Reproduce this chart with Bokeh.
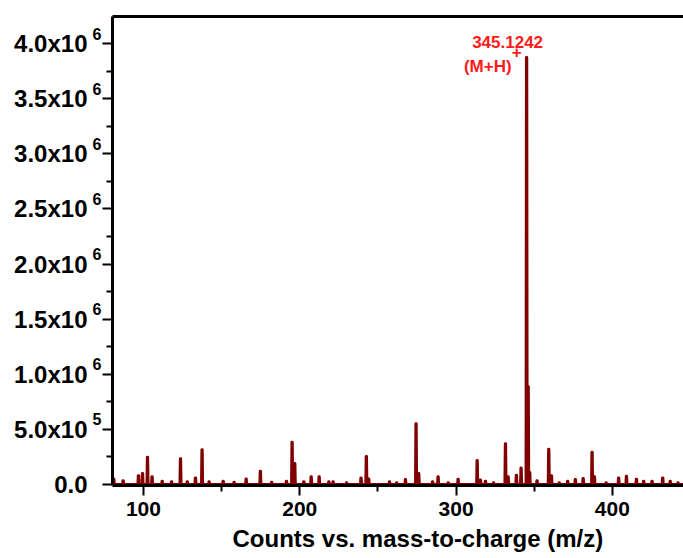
from bokeh.plotting import figure
from bokeh.models import FixedTicker, LinearAxis, Range1d, Title, ColumnDataSource, CustomLabelingPolicy
from bokeh.core.properties import value
from bokeh.embed import file_html
from bokeh.resources import INLINE

# ---- data (m/z, counts) ----
peak_mz = [81.0, 87.0, 96.8, 99.4, 102.6, 105.5, 112.0, 118.0, 123.7, 128.0, 133.3, 137.5, 142.0,
           151.0, 158.0, 165.7, 174.8, 182.0, 191.5, 195.1, 196.8, 202.6, 207.3, 212.4, 218.6,
           221.3, 230.0, 239.2, 242.6, 244.1, 257.4, 262.0, 267.6, 274.4, 276.1, 285.0, 288.5,
           295.0, 301.3, 313.5, 315.6, 318.8, 324.0, 331.6, 333.3, 338.6, 341.6, 345.1242,
           346.13, 347.1, 351.8, 359.3, 361.0, 366.0, 371.4, 376.3, 381.3, 387.0, 388.5, 396.0,
           404.0, 409.0, 415.4, 420.0, 425.4, 432.2, 437.0, 442.0]
peak_int = [50000, 35000, 80000, 100000, 248000, 70000, 30000, 25000, 233000, 25000, 60000, 315000,
            25000, 30000, 20000, 50000, 120000, 20000, 30000, 384000, 190000, 25000, 70000, 70000,
            25000, 25000, 15000, 60000, 254000, 50000, 25000, 15000, 45000, 550000, 100000, 25000,
            70000, 15000, 48000, 218000, 40000, 30000, 15000, 370000, 70000, 85000, 150000, 3873000,
            890000, 110000, 35000, 320000, 80000, 15000, 30000, 45000, 55000, 293000, 70000, 15000,
            60000, 75000, 48000, 30000, 30000, 60000, 30000, 15000]

x_major = [100, 200, 300, 400]
x_minor = [150, 250, 350, 450]
y_major = [0, 500000, 1000000, 1500000, 2000000, 2500000, 3000000, 3500000, 4000000]
y_base = ["0.0", "5.0x10", "1.0x10", "1.5x10", "2.0x10", "2.5x10", "3.0x10", "3.5x10", "4.0x10"]
y_exp = ["", "5", "6", "6", "6", "6", "6", "6", "6"]
y_minor = [250000, 750000, 1250000, 1750000, 2250000, 2750000, 3250000, 3750000, 4250000]

x_title = "Counts vs. mass-to-charge (m/z)"
peak_label = "345.1242"
peak_ion = "(M+H)"
peak_charge = "+"
label_mz = 345.1242
label_int = 3873000

X_START, X_END = 80.2, 445.5
Y_START, Y_END = -9000, 4245000
SUP_SHIFT = 90000  # raises the exponent labels by about 10 px

# ---- build stick spectrum line from the peak list ----
order = sorted(range(len(peak_mz)), key=lambda i: peak_mz[i])
xs = [X_START]
ys = [0]
half = 0.35
for i in order:
    m, h = peak_mz[i], peak_int[i]
    xs += [m - half, m - 0.1, m + 0.1, m + half]
    ys += [0, h, h, 0]
xs.append(X_END)
ys.append(0)
src = ColumnDataSource(dict(x=xs, y=ys))

FONT = "Liberation Sans"
LINE_COLOR = "#800000"
RED = "#ff1a1a"

p = figure(width=683, height=558, x_range=Range1d(X_START, X_END), y_range=Range1d(Y_START, Y_END),
           output_backend="svg", toolbar_location=None,
           min_border_left=112, min_border_right=0, min_border_top=16, min_border_bottom=73)
p.extra_y_ranges = {"sup": Range1d(Y_START - SUP_SHIFT, Y_END - SUP_SHIFT)}
p.outline_line_color = None
p.xgrid.visible = False
p.ygrid.visible = False
p.background_fill_color = "white"
p.border_fill_color = "white"

p.line("x", "y", source=src, line_color=LINE_COLOR, line_width=3, line_join="round")

# axes styling
for ax in (p.xaxis[0], p.yaxis[0]):
    ax.axis_line_width = 3
    ax.axis_line_color = "black"
    ax.major_tick_line_width = 2
    ax.minor_tick_line_width = 2
    ax.major_tick_in = 0
    ax.minor_tick_in = 0
    ax.major_tick_out = 10
    ax.minor_tick_out = 6
    ax.major_label_text_font = FONT
    ax.major_label_text_font_style = "bold"
    ax.major_label_text_color = "black"

p.xaxis[0].ticker = FixedTicker(ticks=x_major, minor_ticks=x_minor)
p.xaxis[0].major_label_text_font_size = "21px"
p.xaxis[0].major_label_standoff = 6

# inner y axis: line and ticks only (no labels drawn)
p.yaxis[0].ticker = FixedTicker(ticks=y_major, minor_ticks=y_minor)
p.yaxis[0].major_label_standoff = 0
p.yaxis[0].major_label_overrides = {t: "" for t in y_major}
p.yaxis[0].major_label_text_font_size = "1px"
p.yaxis[0].major_label_policy = CustomLabelingPolicy(
    code="for (const i of indices) { indices.unset(i) } return indices")

# exponent labels (raised)
sup_ticks = [t for t, e in zip(y_major, y_exp) if e]
sup_axis = LinearAxis(y_range_name="sup", ticker=FixedTicker(ticks=sup_ticks),
                      major_label_overrides={t: e for t, e in zip(y_major, y_exp) if e},
                      axis_line_color=None, major_tick_line_color=None, minor_tick_line_color=None,
                      major_tick_out=0, major_tick_in=0, minor_tick_out=0, minor_tick_in=0,
                      major_label_standoff=1, major_label_text_font=FONT,
                      major_label_text_font_style="bold", major_label_text_font_size="16px",
                      major_label_text_color="black")
p.add_layout(sup_axis, "left")

# mantissa labels
base_axis = LinearAxis(ticker=FixedTicker(ticks=y_major),
                       major_label_overrides={t: b for t, b in zip(y_major, y_base)},
                       axis_line_color=None, major_tick_line_color=None, minor_tick_line_color=None,
                       major_tick_out=0, major_tick_in=0, minor_tick_out=0, minor_tick_in=0,
                       major_label_standoff=2, major_label_text_font=FONT,
                       major_label_text_font_style="bold", major_label_text_font_size="24px",
                       major_label_text_color="black")
p.add_layout(base_axis, "left")

top_axis = LinearAxis(ticker=FixedTicker(ticks=[]), axis_line_width=3, axis_line_color="black",
                      major_tick_out=0, major_tick_in=0, minor_tick_out=0, minor_tick_in=0,
                      major_label_standoff=0)
p.add_layout(top_axis, "above")

t = Title(text=x_title, align="left", offset=120, text_font=FONT, text_font_size="24px",
          text_font_style="bold", text_color="black", standoff=8)
p.add_layout(t, "below")

# peak annotation
p.text(x=[label_mz], y=[label_int], text=[peak_label], text_align="center", text_baseline="alphabetic",
       x_offset=-19, y_offset=-16, text_font=value(FONT), text_font_style="bold",
       text_font_size="17px", text_color=RED)
p.text(x=[label_mz], y=[label_int], text=[peak_ion], text_align="right", text_baseline="alphabetic",
       x_offset=-15, y_offset=9, text_font=value(FONT), text_font_style="bold",
       text_font_size="17px", text_color=RED)
p.text(x=[label_mz], y=[label_int], text=[peak_charge], text_align="center", text_baseline="middle",
       x_offset=-10, y_offset=-6, text_font=value(FONT), text_font_style="bold",
       text_font_size="17px", text_color=RED)

open("out.html", "w").write(file_html(p, INLINE))
